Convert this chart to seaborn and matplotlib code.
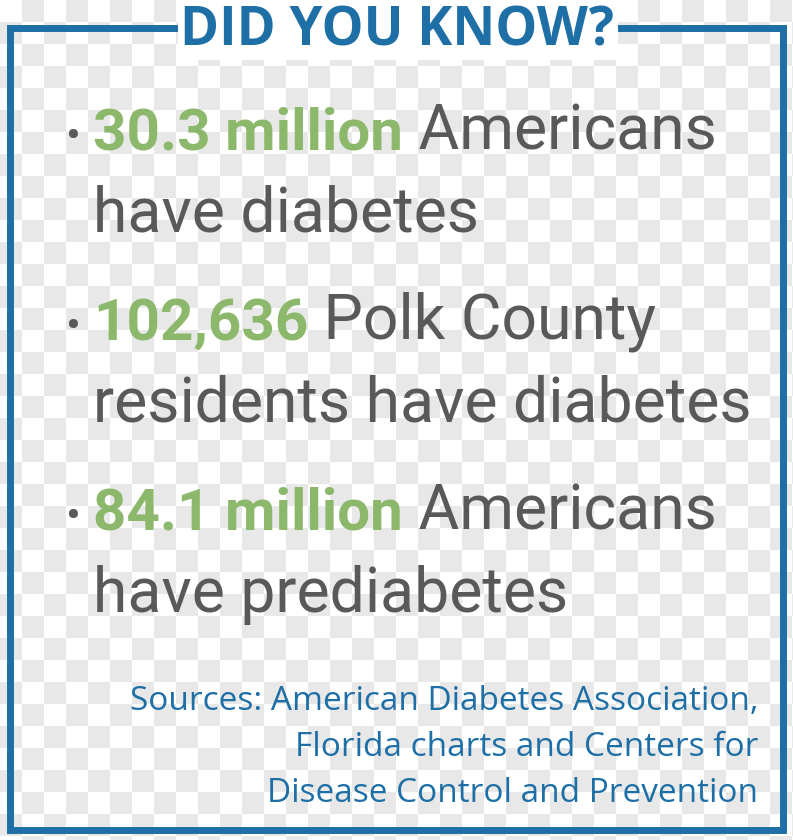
import numpy as np
import matplotlib.pyplot as plt
import seaborn as sns

sns.set_theme(style='white')

BLUE = '#1d6fa5'
GREEN = '#8cb86b'
GRAY = '#58595b'
FONT = 'Roboto'

title = 'DID YOU KNOW?'
stats = ['30.3 million', '102,636', '84.1 million']
rest_first = [' Americans', ' Polk County', ' Americans']
rest_second = ['have diabetes', 'residents have diabetes', 'have prediabetes']
sources = ['Sources: American Diabetes Association,',
           'Florida charts and Centers for',
           'Disease Control and Prevention']

fig = plt.figure(figsize=(7.93, 8.4), dpi=100)
ax = fig.add_axes([0, 0, 1, 1])
ax.axis('off')

# transparency checkerboard background
sq = 22
board = (np.add.outer(np.arange(840 // sq + 1), np.arange(793 // sq + 1)) % 2)
ax.imshow(board, cmap=plt.matplotlib.colors.ListedColormap(['#ffffff', '#e8e8e8']),
          extent=(0, board.shape[1] * sq, board.shape[0] * sq, 0), interpolation='nearest', zorder=0)
ax.set_xlim(0, 793)
ax.set_ylim(840, 0)

# frame
ax.add_patch(plt.Rectangle((10, 28), 773, 802, fill=False, ec=BLUE, lw=5, zorder=2))
ax.add_patch(plt.Rectangle((178, 0), 440, 60, fc='white', ec='none', zorder=3))
ax.text(397, 32, title, ha='center', va='center', color=BLUE, fontsize=38,
        fontweight='bold', family='Open Sans', zorder=4)

first_y = [150, 340, 530]
second_y = [232, 422, 612]
for s, r1, r2, y1, y2 in zip(stats, rest_first, rest_second, first_y, second_y):
    ax.text(66, y1, '•', color=GRAY, fontsize=32, family=FONT, va='baseline', zorder=4)
    t = ax.text(93, y1, s, color=GREEN, fontsize=42, fontweight='bold', family=FONT,
                va='baseline', zorder=4)
    ax.annotate(r1, xy=(1, 0), xycoords=t, color=GRAY, fontsize=45, family=FONT,
                va='bottom', zorder=4)
    ax.text(93, y2, r2, color=GRAY, fontsize=45, family=FONT, va='baseline', zorder=4)

for i, line in enumerate(sources):
    ax.text(758, 710 + i * 46, line, ha='right', va='baseline', color=BLUE,
            fontsize=24, family='Open Sans', zorder=4)

fig.savefig('out.png', dpi=100)
